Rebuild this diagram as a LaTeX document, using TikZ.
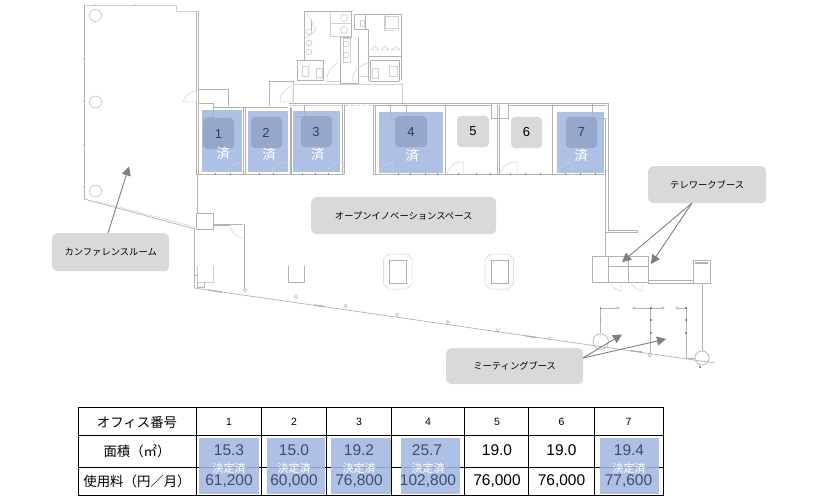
\documentclass[tikz,border=0pt]{standalone}
\usepackage{fontspec}
\setmainfont{Liberation Sans}
\newfontfamily\cjk{Noto Sans CJK JP}
\usetikzlibrary{arrows.meta}
\definecolor{wall}{HTML}{B2B2B2}
\definecolor{wallthin}{HTML}{D0D0D0}
\definecolor{tick}{HTML}{8A8A8A}
\definecolor{roomblue}{HTML}{AEC1E4}
\definecolor{tagblue}{HTML}{95A8CC}
\definecolor{lblgray}{HTML}{D9D9D9}
\definecolor{arrgray}{HTML}{7F7F7F}
\definecolor{cellblue}{HTML}{A3B8E0}
\definecolor{celltxt}{HTML}{3C4F70}
\newcommand\fsz[1]{\fontsize{#1}{#1}\selectfont}
\tikzset{
  x=1pt,y=-1pt,
  plan/.style={draw=wall,line width=.7pt},
  planthin/.style={draw=wallthin,line width=.5pt},
  planthick/.style={draw=wall,line width=1.6pt},
  room/.style={fill=roomblue,draw=none},
  tagbox/.style={fill=tagblue,draw=none,rounded corners=4pt},
  taggray/.style={fill=lblgray,draw=none,rounded corners=4pt},
  tagnum/.style={font=\fsz{13},text=#1,inner sep=0pt},
  sumi/.style={font=\cjk\fsz{13.5},text=white,inner sep=0pt},
  lbl/.style={fill=lblgray,draw=none,rounded corners=5pt,font=\cjk\fsz{9.3},text=black,inner sep=0pt,anchor=north west},
  pointer/.style={draw=arrgray,line width=.9pt,-{Triangle[length=9pt,width=9pt]}},
  tline/.style={draw=black,line width=.9pt},
  hdr/.style={font=\cjk\fsz{13.4},text=black,inner sep=0pt},
  num/.style={font=\fsz{10.5},text=black,inner sep=0pt},
  val/.style={font=\fsz{15.5},text=#1,inner sep=0pt},
  dec/.style={font=\cjk\fsz{11},text=white,inner sep=0pt},
  cell/.style={fill=cellblue,draw=none,opacity=.88},
}
\begin{document}
\begin{tikzpicture}
\useasboundingbox (0,0) rectangle (813,500);
% conference room
\draw[planthin] (84,5) -- (176,5) -- (176,11) -- (196,11);
\draw[plan,line width=.5pt] (84,5) -- (84,199);
\draw[plan] (196.5,11) -- (196.5,175) (198,11) -- (198,175);
\draw[plan,line width=1pt] (197.5,175) -- (197.5,213);
\draw[plan] (84,199) -- (195,229);
\draw[planthin] (96,201) -- (195,227);
\foreach \cy in {15.5,102,191} \draw[plan,line width=.5pt] (95.5,\cy) circle[radius=6];
\foreach \cy in {59,101,145,187} \fill[tick] (84,\cy) circle[radius=.6];
\foreach \cx in {95,135} \fill[tick] (\cx,5) circle[radius=.6];
% room at top-left of offices
\draw[plan] (198,89) -- (228,89) -- (228,106);
\draw[plan] (198,103) -- (213,103) -- (213,107);
\draw[planthin] (196,91) to[bend right=35] (183,102) -- (196,102);
\draw[planthin] (196,91) -- (196,102);
% small room and corridor
\draw[plan] (289,81) -- (269,81) -- (269,106);
\draw[plan] (289,81) -- (293,81) -- (293,83);
\draw[planthin] (292,86) to[bend right=35] (280,102) -- (292,102) -- (292,86);
\draw[planthin] (294,84) -- (402,84);
\draw[planthin] (293,83) -- (293,102) (402,83) -- (402,103);
% top wall
\draw[planthick] (213,107.5) -- (288,107.5);
\draw[plan,line width=.5pt] (289,103) -- (608,103);
\draw[planthin] (289,105) -- (343,105);
\draw[planthin,dashed] (345,105) -- (372,105);
\draw[plan] (373,105) -- (491,105) (508,105) -- (606,105);
% restrooms
\draw[plan] (304.5,11) -- (351.5,11) -- (351.5,37) -- (340,37) -- (340,83) -- (358,83) -- (358,37);
\draw[plan] (304.5,11) -- (304.5,60);
\draw[planthin] (330,11) -- (330,36) -- (351,36) (330,23) -- (351,23);
\draw[plan] (297.5,60.5) -- (323.5,60.5) -- (323.5,81);
\draw[plan] (297.5,60.5) -- (297.5,80.5) -- (323.5,80.5);
\draw[planthin] (302,66) rectangle (308,76) (316,68) rectangle (322,77);
\draw[planthin] (310,73) to[bend left=60] (310,65);
\draw[planthin] (327,81) to[bend left=35] (338,63) (352,81) to[bend left=35] (368,63);
\draw[planthin] (327,81) -- (340,81) (358,76) -- (368,76);
\draw[plan] (311,20) -- (311,30);
\draw[planthin] (306,12) -- (316,30) -- (306,38);
\foreach \cy in {32,43,52} \draw[plan,line width=.4pt] (309,\cy) circle[radius=3];
\draw[planthin] (343,38) rectangle (350,62);
\foreach \cy in {44,55} \draw[plan,line width=.4pt] (346,\cy) circle[radius=3];
\foreach \cy in {18,30} \draw[plan,line width=.4pt] (344,\cy) circle[radius=3.5];
\draw[plan] (354,14) -- (401,14) -- (401,80);
\draw[plan] (354,14) -- (354,29) -- (368,29) -- (368,81);
\draw[plan] (365,14) -- (365,29);
\draw[planthin] (360,20) rectangle (364,26) (385,16) rectangle (398,28);
\draw[planthin] (384,14) -- (384,30) -- (394,30);
\draw[planthick] (369,56.5) -- (401,56.5);
\draw[planthin] (371,50) -- (375,46) -- (379,50) -- cycle (381,50) -- (385,46) -- (389,50) -- cycle (391,50) -- (396,46) -- (400,50) -- cycle;
\draw[plan] (370,60.5) -- (399,60.5) -- (399,81);
\draw[plan] (370,60.5) -- (370,81) -- (399,81);
\draw[planthin] (372,68) rectangle (378,78) (389,66) rectangle (397,76);
% blue rooms
\fill[room] (202,110.5) rectangle (242,172);
\fill[room] (247.5,111) rectangle (287.5,172);
\fill[room] (293,111) rectangle (340,172);
\fill[room] (379,112) rectangle (443,173);
\fill[room] (557,112) rectangle (604,173);
% partitions
\draw[plan,line width=1pt] (196.5,107) -- (196.5,174) (245,107) -- (245,174) (290,107) -- (290,174) (344.5,105) -- (344.5,174) (373,105) -- (373,174) (445.5,105) -- (445.5,174) (497.5,105) -- (497.5,174) (552.5,105) -- (552.5,174);
\draw[plan,line width=.5pt] (498.8,105) -- (498.8,174) (291,108) -- (291,174) (243.5,107) -- (243.5,174) (342,105) -- (342,174) (375.5,105) -- (375.5,174);
\draw[plan,line width=1pt] (196,174) -- (344,174) (373,174) -- (606,174);
\foreach \tx in {215,230,259,273,302,315,328,398,410,425,437,458,476,490,510,525,540,565,580,595} \fill[tick] (\tx,173) rectangle (\tx+.7,175);
\draw[plan,line width=.5pt] (213,107) -- (213,117) -- (203,117);
\draw[plan,line width=.5pt] (304.5,105) -- (304.5,116) -- (293,116);
\draw[plan,line width=.5pt] (390,105) -- (390,119) -- (397,119) (406,105) -- (406,119);
\draw[plan] (491,103) -- (491,118) -- (508,118) -- (508,103);
\draw[plan] (592.5,104) -- (592.5,118) -- (605,118);
% right wall
\draw[plan] (608,103) -- (608,230) -- (637,230) -- (637,232) -- (605.5,232);
\draw[plan] (605.5,118) -- (605.5,256);
% door arcs
\foreach \xa/\xb in {227/243,271/289,326/343,380/392,447/463,500/517,558/572} {
  \draw[planthin] (\xa,173) to[bend left=35] (\xb,162) -- (\xb,173);
}
% lower left rooms
\draw[plan] (196,213) rectangle (213,229);
\draw[plan] (213,224) -- (243,224) (213,225.5) -- (230,225.5);
\draw[plan,line width=1pt] (244,224) -- (244,289);
\draw[plan] (194.5,229) -- (194.5,288);
\draw[planthin] (230,227) to[bend right=30] (243,238);
\draw[planthin] (197,266) -- (197,282) -- (213,282) -- (213,266);
\draw[plan] (194.5,275) -- (198,275) (197,282) -- (197,287) -- (204,287) -- (204,282);
% diagonal wall
\draw[plan] (194,288) -- (715,363);
\draw[plan,line width=1.4pt] (208,290) -- (222,292) (314,305) -- (325,306.6) (526,336) -- (536,337.4) (630,350.6) -- (642,352);
\foreach \cx/\cy in {245/290,296/297,345.6/306,397/314.6,447.6/322,549/338.6,650/355}
  \draw[plan,line width=.5pt] (\cx,\cy) circle[radius=1.7];
\draw[plan,line width=.5pt] (496,328) -- (498,332) -- (500,328);
% open space fixtures
\draw[plan] (288,265.5) -- (288,282.5) -- (304.5,282.5) -- (304.5,265.5);
\foreach \ox in {383.5,485} {
  \draw[planthin] (\ox+5,254) -- (\ox+23.5,254) -- (\ox+28.5,259) -- (\ox+28.5,284) -- (\ox+23.5,289) -- (\ox+5,289) -- (\ox,284) -- (\ox,259) -- cycle;
  \draw[plan] (\ox+6,260) rectangle (\ox+23,283);
}
% booths
\draw[plan] (592.5,256.5) rectangle (608,282);
\draw[plan] (608,256.5) rectangle (628,282);
\draw[plan] (628.5,256.5) rectangle (648,282);
\draw[plan] (608,266) -- (648,266);
\draw[plan] (648,280) -- (693,280) (648,283) -- (693,283) (648,256.5) -- (648,283);
\draw[plan] (693.5,260.5) rectangle (710,283);
\draw[plan,line width=1.2pt] (695,263) -- (708,263);
\draw[planthin] (611,284) to[bend right=20] (621,291) (621,282) -- (621,291) (632,284) to[bend right=20] (642,291) (642,282) -- (642,291);
% meeting partitions
\draw[plan] (600,308) -- (618,308) (600.5,308) -- (600.5,333);
\draw[plan] (634,308) -- (663,308) (650.7,308) -- (650.7,353);
\draw[plan] (677,308) -- (686,308) -- (686,358) -- (695,358);
\draw[plan] (702,283) -- (702,351);
\draw[plan] (600.7,341.5) circle[radius=7.7];
\draw[plan] (702,358) circle[radius=7];
\foreach \dx/\dy in {600.5/320,650.7/320,650.7/333,686/320,686/333,650.7/308,600.5/308,686/308,700/367}
  \fill[tick] (\dx-.8,\dy-.8) rectangle (\dx+.8,\dy+.8);
\foreach \ex in {618,634,663,677}
  \draw[plan,line width=.5pt,fill=white] (\ex,308) circle[radius=1.2];
% office tags
\path[tagbox] (203,118) rectangle (234,149);
\path[tagbox] (251,117) rectangle (282,148);
\path[tagbox] (301,116) rectangle (332,147);
\path[tagbox] (395,116) rectangle (427,147);
\path[taggray] (457,116) rectangle (489,147);
\path[taggray] (511,117) rectangle (542,148);
\path[tagbox] (566,117) rectangle (597,148);
\node[tagnum=celltxt!80!black] (r1) at (218.5,134) {1};
\node[tagnum=celltxt!80!black] (r2) at (266,133) {2};
\node[tagnum=celltxt!80!black] (r3) at (316,132) {3};
\node[tagnum=celltxt!80!black] (r4) at (411,132) {4};
\node[tagnum=black] (r5) at (473,131.5) {5};
\node[tagnum=black] (r6) at (526.5,132.5) {6};
\node[tagnum=celltxt!80!black] (r7) at (581.5,132.5) {7};
\node[sumi] (s1) at (223,153.5) {済};
\node[sumi] (s2) at (269,154.5) {済};
\node[sumi] (s3) at (317.5,154.5) {済};
\node[sumi] (s4) at (412,155) {済};
\node[sumi] (s7) at (581,155) {済};
% labels
\node[lbl,minimum width=117pt,minimum height=38pt] (conf) at (52,233) {カンファレンスルーム};
\node[lbl,minimum width=185pt,minimum height=37pt] (open) at (311,197) {オープンイノベーションスペース};
\node[lbl,minimum width=118pt,minimum height=37pt] (tele) at (648,166) {テレワークブース};
\node[lbl,minimum width=137pt,minimum height=36pt] (meet) at (446,348) {ミーティングブース};
% pointers
\coordinate (c0) at (108,233); \coordinate (c1) at (129,166.5);
\coordinate (t0) at (692,203); \coordinate (t1) at (622,262); \coordinate (t2) at (651,264);
\coordinate (m0) at (583,358); \coordinate (m1) at (622,334.5); \coordinate (m2) at (666,339);
\draw[pointer] (c0) -- (c1);
\draw[pointer] (t0) -- (t1);
\draw[pointer] (t0) -- (t2);
\draw[pointer] (m0) -- (m1);
\draw[pointer] (m0) -- (m2);
% table
\draw[tline] (78,407) rectangle (663,495);
\draw[tline] (78,435) -- (663,435) (78,467) -- (663,467);
\foreach \tx in {196.5,261.5,326,391.5,464.5,528.5,594.5} \draw[tline] (\tx,407) -- (\tx,495);
\path[cell] (199,438) rectangle (259,493.5);
\path[cell] (266.5,438) rectangle (325,493.5);
\path[cell] (331,438) rectangle (390.5,493.5);
\path[cell] (400.5,438) rectangle (460,493.5);
\path[cell] (600,438) rectangle (659,493.5);
\node[hdr] (h1) at (137,422) {オフィス番号};
\node[hdr] (h2) at (137,451) {面積（㎡）};
\node[hdr] (h3) at (137,481) {使用料（円／月）};
\foreach \nm/\tx/\tt in {a/229/1,b/294/2,c/359/3,d/428/4,e/497/5,f/561.5/6,g/628.5/7}
  \node[num] (n\nm) at (\tx,421.5) {\tt};
\node[val=celltxt] (a1) at (229,450.5) {15.3};
\node[val=celltxt] (a2) at (294,450) {15.0};
\node[val=celltxt] (a3) at (359,450.5) {19.2};
\node[val=celltxt] (a4) at (427,450.5) {25.7};
\node[val=black] (a5) at (497,450.5) {19.0};
\node[val=black] (a6) at (561.5,450.5) {19.0};
\node[val=celltxt] (a7) at (629,450.5) {19.4};
\node[val=celltxt] (b1) at (229,481.5) {61,200};
\node[val=celltxt] (b2) at (294,481) {60,000};
\node[val=celltxt] (b3) at (359,481.5) {76,800};
\node[val=celltxt] (b4) at (428,481.5) {102,800};
\node[val=black] (b5) at (497,481.5) {76,000};
\node[val=black] (b6) at (561.5,481.5) {76,000};
\node[val=celltxt] (b7) at (628.5,481.5) {77,600};
\foreach \nm/\tx in {1/229,2/294,3/359,4/428,7/629}
  \node[dec] (d\nm) at (\tx,468) {決定済};
\end{tikzpicture}
\end{document}
